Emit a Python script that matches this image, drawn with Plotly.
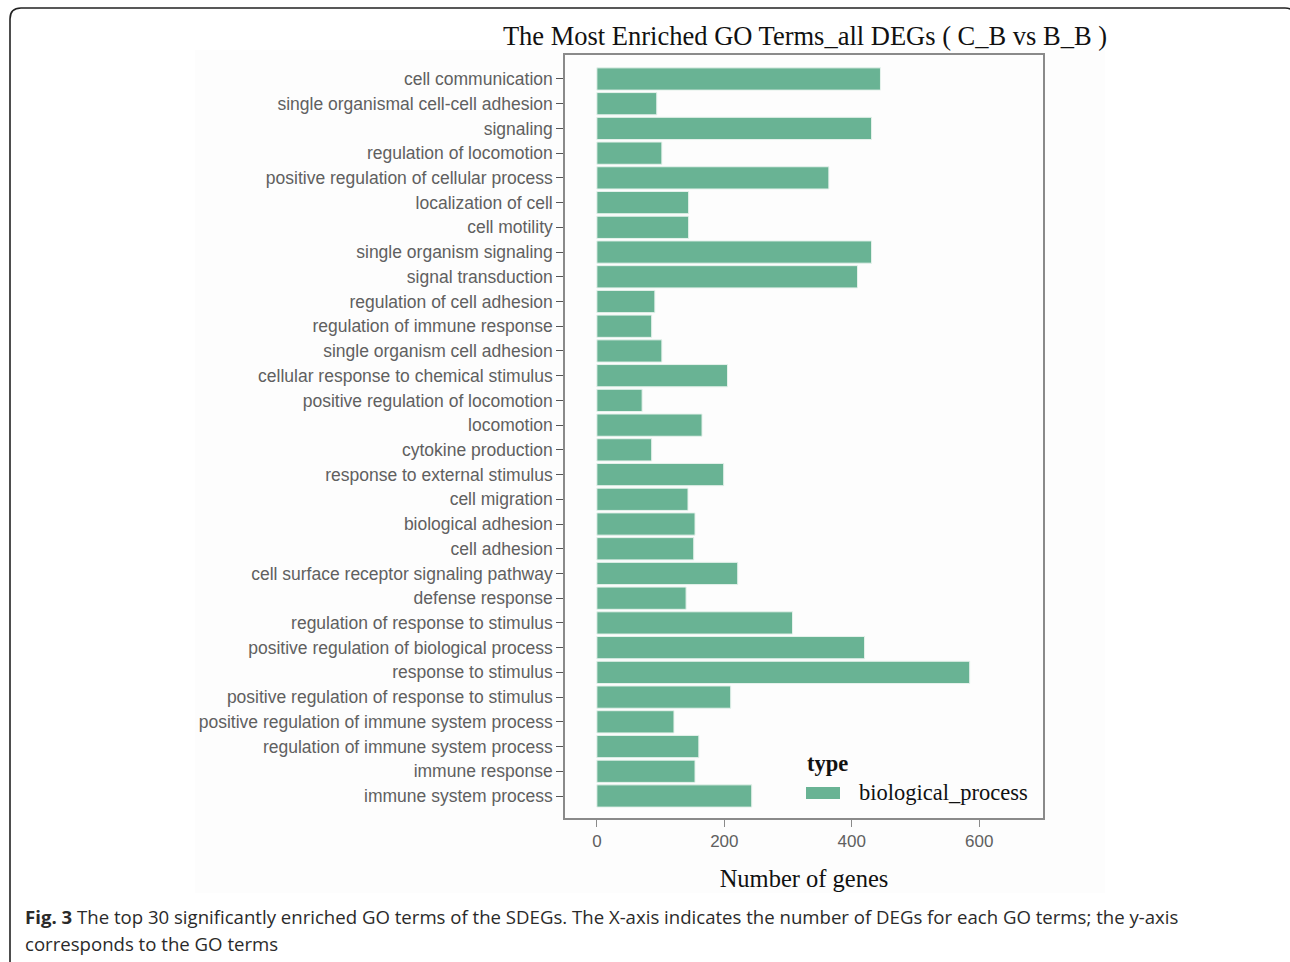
import plotly.graph_objects as go

# GO terms, top to bottom, and their gene counts
terms = [
    "cell communication",
    "single organismal cell-cell adhesion",
    "signaling",
    "regulation of locomotion",
    "positive regulation of cellular process",
    "localization of cell",
    "cell motility",
    "single organism signaling",
    "signal transduction",
    "regulation of cell adhesion",
    "regulation of immune response",
    "single organism cell adhesion",
    "cellular response to chemical stimulus",
    "positive regulation of locomotion",
    "locomotion",
    "cytokine production",
    "response to external stimulus",
    "cell migration",
    "biological adhesion",
    "cell adhesion",
    "cell surface receptor signaling pathway",
    "defense response",
    "regulation of response to stimulus",
    "positive regulation of biological process",
    "response to stimulus",
    "positive regulation of response to stimulus",
    "positive regulation of immune system process",
    "regulation of immune system process",
    "immune response",
    "immune system process",
]
gene_counts = [445, 94, 431, 102, 364, 144, 144, 431, 409, 91,
               86, 102, 205, 71, 165, 86, 199, 143, 154, 152,
               221, 140, 307, 420, 585, 210, 121, 160, 154, 243]
x_ticks = [0, 200, 400, 600]
go_type = "biological_process"

W, H = 1290, 962
L, R, T, B = 565, 1043, 55, 818
BAR = "#69b394"
AXIS = "#8a8a8a"
TXT = "#606060"


def px(x):
    return (x - L) / (R - L)


def py(y):
    return (B - y) / (B - T)


fig = go.Figure(
    go.Bar(
        x=gene_counts,
        y=terms,
        orientation="h",
        width=0.9,
        marker=dict(color=BAR, line=dict(color="#e6f2ec", width=1)),
        name=go_type,
        showlegend=False,
    )
)

fig.update_layout(
    width=W,
    height=H,
    margin=dict(l=L, r=W - R, t=T, b=H - B),
    paper_bgcolor="white",
    plot_bgcolor="white",
    bargap=0.1,
    title=dict(
        text="The Most Enriched GO Terms_all DEGs ( C_B vs B_B )",
        font=dict(family="Liberation Serif", size=26.5, color="#111"),
        x=px(805), xanchor="center", xref="paper",
        y=1 - 36 / H, yanchor="middle",
    ),
    xaxis=dict(
        range=[-50, 700],
        tickvals=x_ticks,
        ticks="outside", ticklen=7, tickcolor=AXIS, tickwidth=1,
        tickfont=dict(family="Liberation Sans", size=17, color=TXT),
        showgrid=False, zeroline=False,
        showline=True, linecolor=AXIS, linewidth=1.5, mirror=True,
        title=dict(text="Number of genes",
                   font=dict(family="Liberation Serif", size=24.5, color="#111"),
                   standoff=20),
    ),
    yaxis=dict(
        categoryorder="array", categoryarray=terms,
        range=[29.89, -0.97],
        ticks="outside", ticklen=7, tickcolor="#555", tickwidth=1,
        tickfont=dict(family="Liberation Sans", size=17.5, color=TXT),
        showgrid=False, zeroline=False,
        showline=True, linecolor=AXIS, linewidth=1.5, mirror=True,
    ),
    font=dict(family="Liberation Sans"),
)

shapes = []
# faint panel behind the figure body
shapes.append(dict(type="rect", xref="paper", yref="paper",
                   x0=px(195), x1=px(1105), y0=py(893), y1=py(50),
                   fillcolor="#fdfdfd", line=dict(width=0), layer="below"))
# legend swatch
shapes.append(dict(type="rect", xref="paper", yref="paper",
                   x0=px(806), x1=px(840), y0=py(799), y1=py(787),
                   fillcolor=BAR, line=dict(width=0)))
# rounded outer frame (right edge runs past the page)
r = 11
x0f, y0f, x1f, y1f = 10, 8, 1296, 962
path = (f"M {px(x0f)},{py(y1f)} L {px(x0f)},{py(y0f + r)} "
        f"Q {px(x0f)},{py(y0f)} {px(x0f + r)},{py(y0f)} "
        f"L {px(x1f - r)},{py(y0f)} Q {px(x1f)},{py(y0f)} {px(x1f)},{py(y0f + r)} "
        f"L {px(x1f)},{py(y1f)}")
shapes.append(dict(type="path", xref="paper", yref="paper", path=path,
                   line=dict(color="#222", width=1.6)))
fig.update_layout(shapes=shapes)

annotations = [
    dict(text="<b>type</b>", x=px(805), y=py(763), xanchor="left", yanchor="middle",
         font=dict(family="Liberation Serif", size=22.5, color="#111")),
    dict(text=go_type, x=px(857), y=py(792), xanchor="left", yanchor="middle",
         font=dict(family="Liberation Serif", size=22.5, color="#111")),
    dict(text="<b>Fig. 3</b> The top 30 significantly enriched GO terms of the SDEGs. "
              "The X-axis indicates the number of DEGs for each GO terms; the y-axis",
         x=px(23), y=py(916), xanchor="left", yanchor="middle",
         font=dict(family="Open Sans", size=18.6, color="#2a2a2a")),
    dict(text="corresponds to the GO terms",
         x=px(23), y=py(943), xanchor="left", yanchor="middle",
         font=dict(family="Open Sans", size=18.6, color="#2a2a2a")),
]
for a in annotations:
    a.update(xref="paper", yref="paper", showarrow=False)
fig.update_layout(annotations=annotations)

fig.write_html("out.html")
